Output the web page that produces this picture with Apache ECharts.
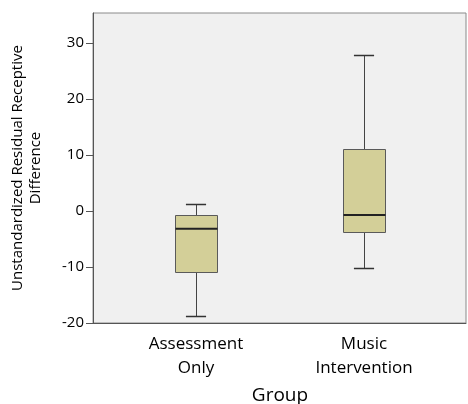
<!DOCTYPE html>
<html>
<head>
<meta charset="utf-8">
<script src="https://cdn.jsdelivr.net/npm/echarts@6/dist/echarts.min.js"></script>
<style>html,body{margin:0;padding:0;background:#fff;}#c{width:468px;height:404px;}</style>
</head>
<body>
<div id="c"></div>
<script>
const categories = ['Assessment\nOnly', 'Music\nIntervention'];
const minValues = [-18.8, -10.2];
const q1Values = [-10.9, -3.8];
const medianValues = [-3.15, -0.7];
const q3Values = [-0.7, 11.07];
const maxValues = [1.25, 27.86];
const yTicks = [-20, -10, 0, 10, 20, 30];

const data = categories.map((c, i) => [i, minValues[i], q1Values[i], medianValues[i], q3Values[i], maxValues[i]]);
const FONT = 'Open Sans';

const chart = echarts.init(document.getElementById('c'), null, {renderer: 'canvas'});
chart.setOption({
  animation: false,
  backgroundColor: '#ffffff',
  textStyle: {fontFamily: FONT},
  grid: [
    {left: 93, right: 2, top: 13, bottom: 81, show: true, backgroundColor: '#f0f0f0', borderColor: '#8a8a8a', borderWidth: 1, outerBoundsMode: 'none', containLabel: false},
    {left: 112, right: 20, top: 13, bottom: 81, outerBoundsMode: 'none', containLabel: false}
  ],
  xAxis: [
    {gridIndex: 0, type: 'value', min: 0, max: 1, axisLine: {show: true, onZero: false, lineStyle: {color: '#555', width: 1}}, axisTick: {show: false}, axisLabel: {show: false}, splitLine: {show: false}},
    {gridIndex: 1, type: 'category', data: categories,
      axisLine: {show: false}, axisTick: {show: true, alignWithLabel: true, length: 4, lineStyle: {color: '#555'}},
      axisLabel: {color: '#000', fontSize: 17, lineHeight: 24, margin: 9, fontFamily: FONT},
      name: 'Group', nameLocation: 'middle', nameGap: 63, nameTextStyle: {color: '#000', fontSize: 19, fontFamily: FONT}}
  ],
  yAxis: [
    {gridIndex: 0, type: 'value', min: -20, max: 35.4, interval: 10,
      axisLine: {show: true, lineStyle: {color: '#555'}}, axisTick: {show: true, length: 7, lineStyle: {color: '#555'}},
      axisLabel: {color: '#000', fontSize: 15, margin: 9, showMaxLabel: false, fontFamily: FONT,
        formatter: v => (yTicks.indexOf(v) >= 0 ? String(v) : '')},
      splitLine: {show: false},
      name: 'Unstandardized Residual Receptive\nDifference', nameLocation: 'middle', nameGap: 48,
      nameTextStyle: {color: '#000', fontSize: 15, lineHeight: 18, fontFamily: FONT}},
    {gridIndex: 1, type: 'value', min: -20, max: 35.4, interval: 10, show: false}
  ],
  series: [{
    type: 'custom',
    xAxisIndex: 1, yAxisIndex: 1,
    data: data,
    renderItem: function (params, api) {
      const idx = api.value(0);
      const x = api.coord([idx, 0])[0];
      const band = api.size([1, 0])[0];
      const bw = band * 0.25;
      const cw = band * 0.12;
      const y = k => api.coord([idx, api.value(k)])[1];
      const yMin = y(1), yQ1 = y(2), yMed = y(3), yQ3 = y(4), yMax = y(5);
      const xs = Math.round(x) + 0.5;
      const lineStyle = {stroke: '#444', lineWidth: 1};
      return {
        type: 'group',
        children: [
          {type: 'line', shape: {x1: xs, y1: yMax, x2: xs, y2: yQ3}, style: lineStyle},
          {type: 'line', shape: {x1: xs, y1: yQ1, x2: xs, y2: yMin}, style: lineStyle},
          {type: 'line', shape: {x1: x - cw / 2, y1: Math.round(yMax) + 0.5, x2: x + cw / 2, y2: Math.round(yMax) + 0.5}, style: {stroke: '#333', lineWidth: 1.5}},
          {type: 'line', shape: {x1: x - cw / 2, y1: Math.round(yMin) + 0.5, x2: x + cw / 2, y2: Math.round(yMin) + 0.5}, style: {stroke: '#333', lineWidth: 1.5}},
          {type: 'rect', shape: {x: Math.round(x - bw / 2) + 0.5, y: Math.round(yQ3) + 0.5, width: Math.round(bw), height: Math.round(yQ1 - yQ3)}, style: {fill: '#d3cf98', stroke: '#5a5a5a', lineWidth: 1}},
          {type: 'line', shape: {x1: Math.round(x - bw / 2) + 0.5, y1: yMed, x2: Math.round(x - bw / 2) + 0.5 + Math.round(bw), y2: yMed}, style: {stroke: '#222', lineWidth: 2}}
        ]
      };
    }
  }]
});
</script>
</body>
</html>
